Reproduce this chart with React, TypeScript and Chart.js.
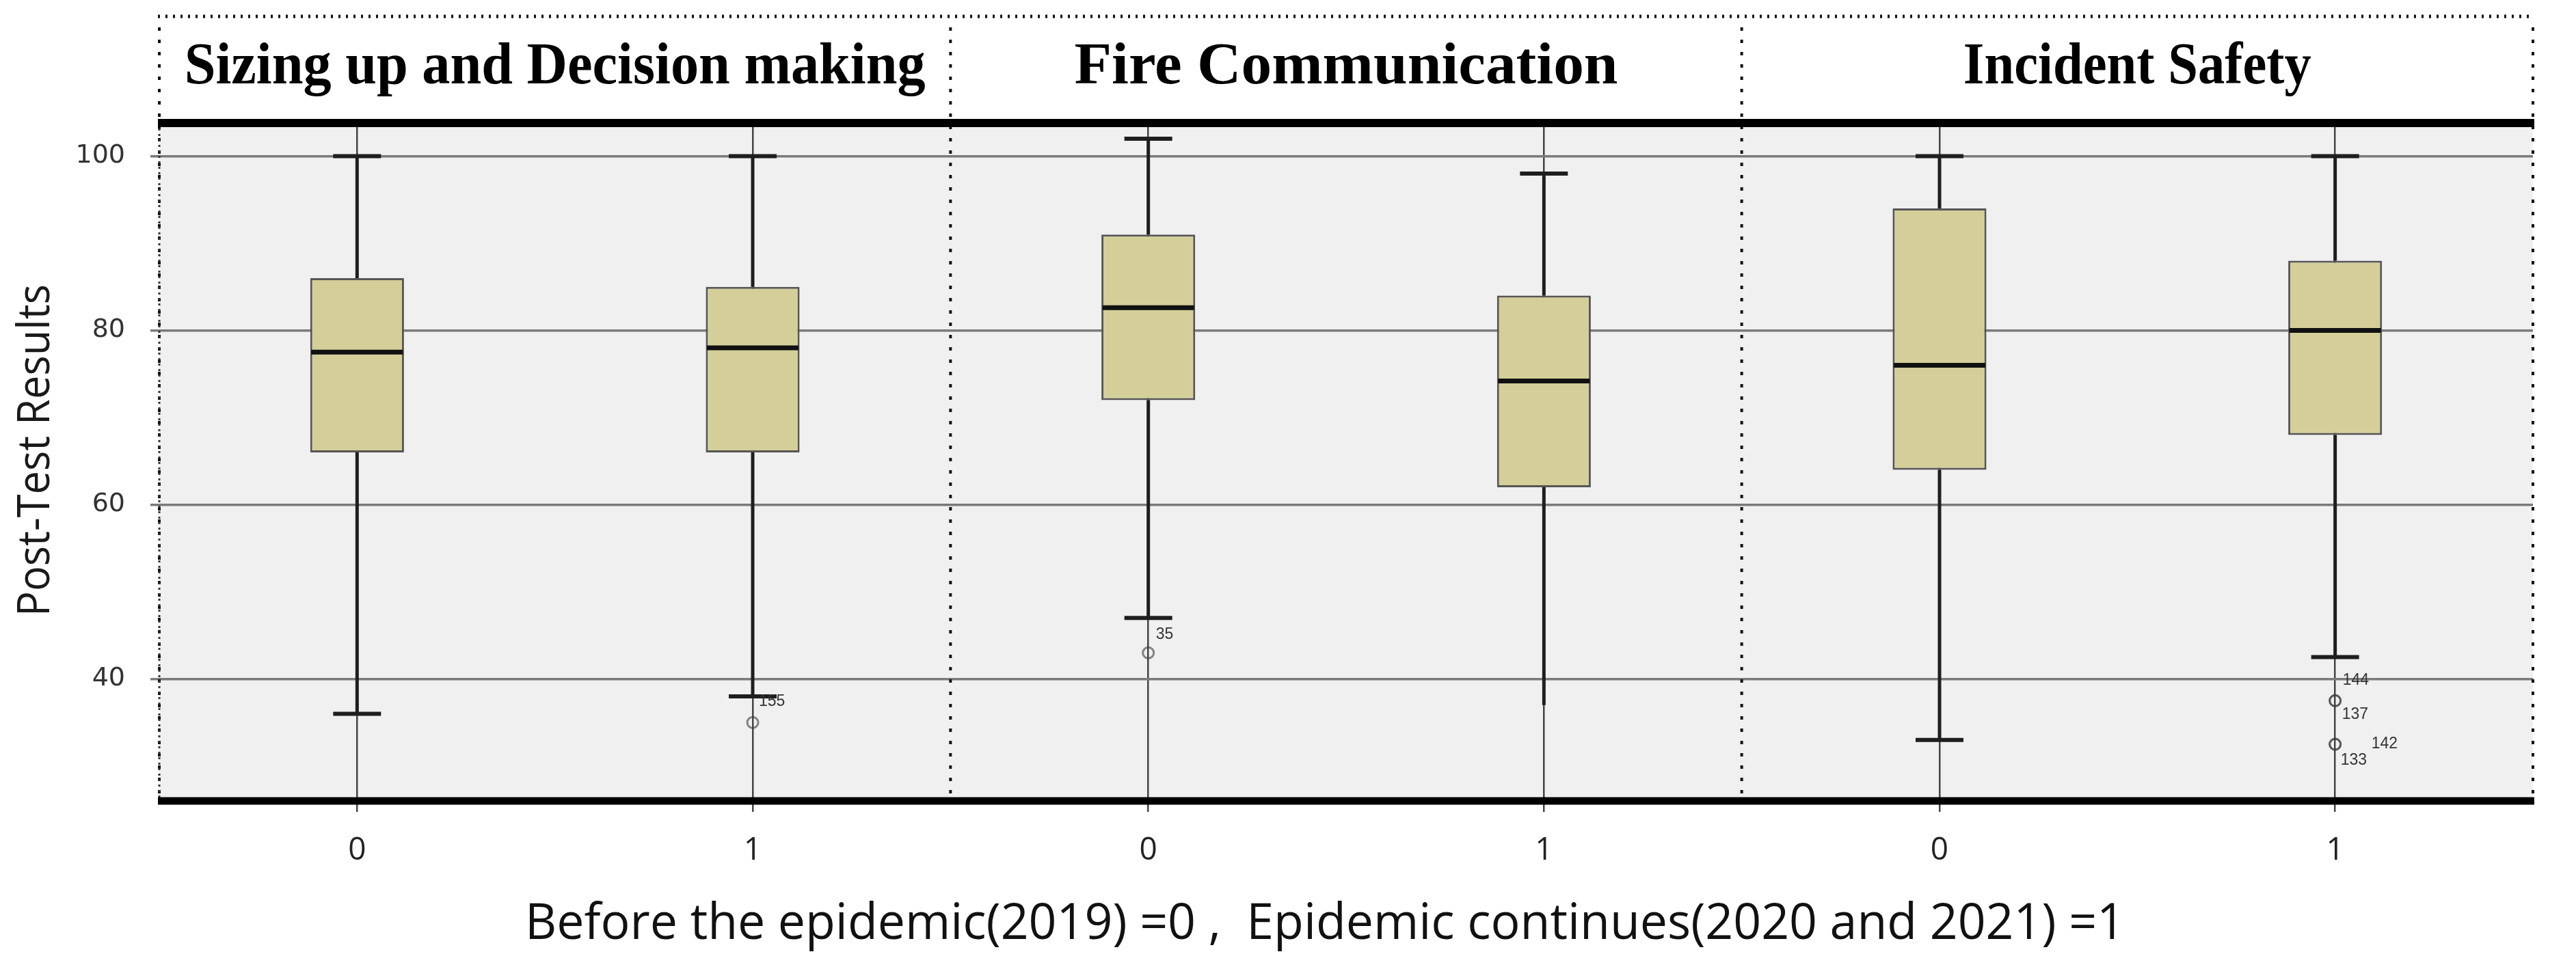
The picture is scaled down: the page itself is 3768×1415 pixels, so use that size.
import React, { useEffect, useRef } from 'react';
import { Chart, registerables } from 'chart.js';

Chart.register(...registerables);

// ---------------- data ----------------
const panelTitles = ['Sizing up and Decision making', 'Fire Communication', 'Incident Safety'];
const groupLabels = ['0', '1', '0', '1', '0', '1'];
const whiskerMin = [36, 38, 47, 37, 33, 42.5];
const boxQ1 = [66, 66, 72, 62, 64, 68];
const boxMedian = [77.5, 78, 82.6, 74.2, 76, 80];
const boxQ3 = [86, 85, 91, 84, 94, 88];
const whiskerMax = [100, 100, 102, 98, 100, 100];
const outlierBox = [1, 2, 5, 5, 5, 5];
const outlierValue = [35, 43, 37.5, 37.5, 32.5, 32.5];
const outlierId = ['155', '35', '144', '137', '142', '133'];
const yTicks = [40, 60, 80, 100];
const yTitle = 'Post-Test Results';
const xTitle = 'Before the epidemic(2019) =0 ,  Epidemic continues(2020 and 2021) =1';

// ---------------- style ----------------
const W = 3768;
const H = 1415;
const PLOT_LEFT = 233;
const PLOT_RIGHT = 3705;
const PLOT_TOP = 180;
const PLOT_BOTTOM = 1172;
const capHalf = 35;
const drawCap = [true, true, true, false, true, true];
// label placement relative to outlier circle: [dx (left edge), dy (middle)]
const outlierLabelOffset = [
  [9, -31],
  [11, -27],
  [11, -30],
  [10, 20],
  [53, 0],
  [8, 24],
];
const titleWidths = [1084, 795, 509];

function fitText(
  ctx: CanvasRenderingContext2D,
  text: string,
  x: number,
  y: number,
  width: number,
  font: string,
  color: string,
  rotate = 0
) {
  ctx.save();
  ctx.font = font;
  ctx.fillStyle = color;
  ctx.textBaseline = 'alphabetic';
  ctx.textAlign = 'center';
  const w = ctx.measureText(text).width;
  ctx.translate(x, y);
  if (rotate) ctx.rotate(rotate);
  ctx.scale(width / w, 1);
  ctx.fillText(text, 0, 0);
  ctx.restore();
}

function seg(ctx: CanvasRenderingContext2D, x1: number, y1: number, x2: number, y2: number) {
  ctx.beginPath();
  ctx.moveTo(x1, y1);
  ctx.lineTo(x2, y2);
  ctx.stroke();
}

const boxPlugin = {
  id: 'boxExtras',
  beforeDraw(chart: any) {
    const { ctx, chartArea } = chart;
    ctx.save();
    ctx.fillStyle = '#ffffff';
    ctx.fillRect(0, 0, chart.width, chart.height);
    ctx.fillStyle = '#f0f0f0';
    ctx.fillRect(chartArea.left, chartArea.top, chartArea.right - chartArea.left, chartArea.bottom - chartArea.top);
    ctx.restore();
  },
  beforeDatasetsDraw(chart: any) {
    const { ctx } = chart;
    const xs = chart.scales.x;
    const ys = chart.scales.y;
    ctx.save();
    ctx.strokeStyle = '#1e1e1e';
    groupLabels.forEach((_, i) => {
      const px = xs.getPixelForValue(i);
      ctx.lineWidth = 5;
      seg(ctx, px, ys.getPixelForValue(whiskerMin[i]), px, ys.getPixelForValue(boxQ1[i]));
      seg(ctx, px, ys.getPixelForValue(boxQ3[i]), px, ys.getPixelForValue(whiskerMax[i]));
      ctx.lineWidth = 6;
      const yMax = ys.getPixelForValue(whiskerMax[i]);
      seg(ctx, px - capHalf, yMax, px + capHalf, yMax);
      if (drawCap[i]) {
        const yMin = ys.getPixelForValue(whiskerMin[i]);
        seg(ctx, px - capHalf, yMin, px + capHalf, yMin);
      }
    });
    ctx.restore();
  },
  afterDatasetsDraw(chart: any) {
    const { ctx } = chart;
    const xs = chart.scales.x;
    const ys = chart.scales.y;
    const meta = chart.getDatasetMeta(0);
    ctx.save();
    ctx.strokeStyle = '#111111';
    ctx.lineWidth = 7;
    meta.data.forEach((bar: any, i: number) => {
      const half = bar.width / 2 - 1.5;
      const py = ys.getPixelForValue(boxMedian[i]);
      seg(ctx, bar.x - half, py, bar.x + half, py);
    });
    // outliers
    outlierValue.forEach((v, k) => {
      const px = xs.getPixelForValue(outlierBox[k]);
      const py = ys.getPixelForValue(v);
      ctx.beginPath();
      ctx.arc(px, py, 8, 0, Math.PI * 2);
      ctx.lineWidth = 3;
      ctx.strokeStyle = 'rgba(60,60,60,0.6)';
      ctx.stroke();
      ctx.font = '23px "Liberation Sans"';
      ctx.fillStyle = '#333333';
      ctx.textAlign = 'left';
      ctx.textBaseline = 'middle';
      const off = outlierLabelOffset[k];
      ctx.fillText(outlierId[k], px + off[0], py + off[1]);
    });
    ctx.restore();
  },
  afterDraw(chart: any) {
    const { ctx, chartArea } = chart;
    const xs = chart.scales.x;
    const left = chartArea.left;
    const right = chartArea.right;
    const sep1 = (xs.getPixelForValue(1) + xs.getPixelForValue(2)) / 2;
    const sep2 = (xs.getPixelForValue(3) + xs.getPixelForValue(4)) / 2;
    const topDot = 24;
    ctx.save();
    // top dotted line
    ctx.strokeStyle = '#111111';
    ctx.lineWidth = 5;
    ctx.setLineDash([3, 8]);
    seg(ctx, left - 2, topDot, right, topDot);
    // vertical dotted lines
    ctx.lineWidth = 4;
    ctx.setLineDash([5, 13]);
    [left, sep1, sep2, right].forEach((sx) => seg(ctx, sx, topDot + 16, sx, chartArea.bottom));
    ctx.strokeStyle = '#333333';
    ctx.lineWidth = 3;
    ctx.setLineDash([3, 5]);
    seg(ctx, left, chartArea.top, left, chartArea.bottom);
    ctx.setLineDash([]);
    // thick borders
    ctx.strokeStyle = '#000000';
    ctx.lineWidth = 12;
    seg(ctx, left - 2, chartArea.top, right + 2, chartArea.top);
    ctx.lineWidth = 11;
    seg(ctx, left - 2, chartArea.bottom, right + 2, chartArea.bottom);
    ctx.restore();

    // panel titles
    const bounds = [left, sep1, sep2, right];
    panelTitles.forEach((t, i) => {
      const cx = (bounds[i] + bounds[i + 1]) / 2;
      fitText(ctx, t, cx, 122, titleWidths[i], 'bold 86px "Liberation Serif"', '#000000');
    });
    // axis titles
    fitText(ctx, yTitle, 72, 659, 486, '66px "Open Sans"', '#1a1a1a', -Math.PI / 2);
    fitText(ctx, xTitle, 1938, 1374, 2340, '74px "Open Sans"', '#111111');
  },
};

export default function App() {
  const canvasRef = useRef<HTMLCanvasElement | null>(null);

  useEffect(() => {
    document.body.style.margin = '0';
    const canvas = canvasRef.current;
    if (!canvas) return;
    const chart = new Chart(canvas, {
      type: 'bar',
      data: {
        labels: groupLabels,
        datasets: [
          {
            label: 'box',
            data: boxQ1.map((q1, i) => [q1, boxQ3[i]]) as any,
            backgroundColor: '#d4cf99',
            borderColor: '#555555',
            borderWidth: 3,
            borderSkipped: false,
            barPercentage: 0.237,
            categoryPercentage: 1,
          },
        ],
      },
      options: {
        animation: false,
        responsive: false,
        devicePixelRatio: 1,
        layout: { padding: { left: 0, right: W - PLOT_RIGHT, top: PLOT_TOP, bottom: 0 } },
        plugins: { legend: { display: false }, tooltip: { enabled: false }, title: { display: false } },
        scales: {
          x: {
            type: 'category',
            offset: true,
            border: { display: false },
            grid: {
              offset: false,
              color: '#444444',
              lineWidth: 2.5,
              drawTicks: true,
              tickLength: 16,
              tickColor: '#444444',
            },
            ticks: {
              color: '#222222',
              font: { family: '"Open Sans"', size: 46 },
              padding: 29,
              maxRotation: 0,
              autoSkip: false,
            },
            afterFit: (s: any) => {
              s.height = H - PLOT_BOTTOM;
            },
          },
          y: {
            type: 'linear',
            min: 26,
            max: 103.8,
            border: { display: false },
            grid: {
              color: '#7a7a7a',
              lineWidth: 3.5,
              tickLength: 13,
              tickColor: '#7a7a7a',
            },
            ticks: {
              color: '#333333',
              font: { family: '"DejaVu Sans"', size: 38 },
              padding: 37,
            },
            afterBuildTicks: (axis: any) => {
              axis.ticks = yTicks.map((v) => ({ value: v }));
            },
            afterFit: (s: any) => {
              s.width = PLOT_LEFT;
            },
          },
        },
      },
      plugins: [boxPlugin],
    });
    return () => chart.destroy();
  }, []);

  return (
    <div style={{ width: W, height: H }}>
      <canvas ref={canvasRef} width={W} height={H} style={{ display: 'block' }} />
    </div>
  );
}
